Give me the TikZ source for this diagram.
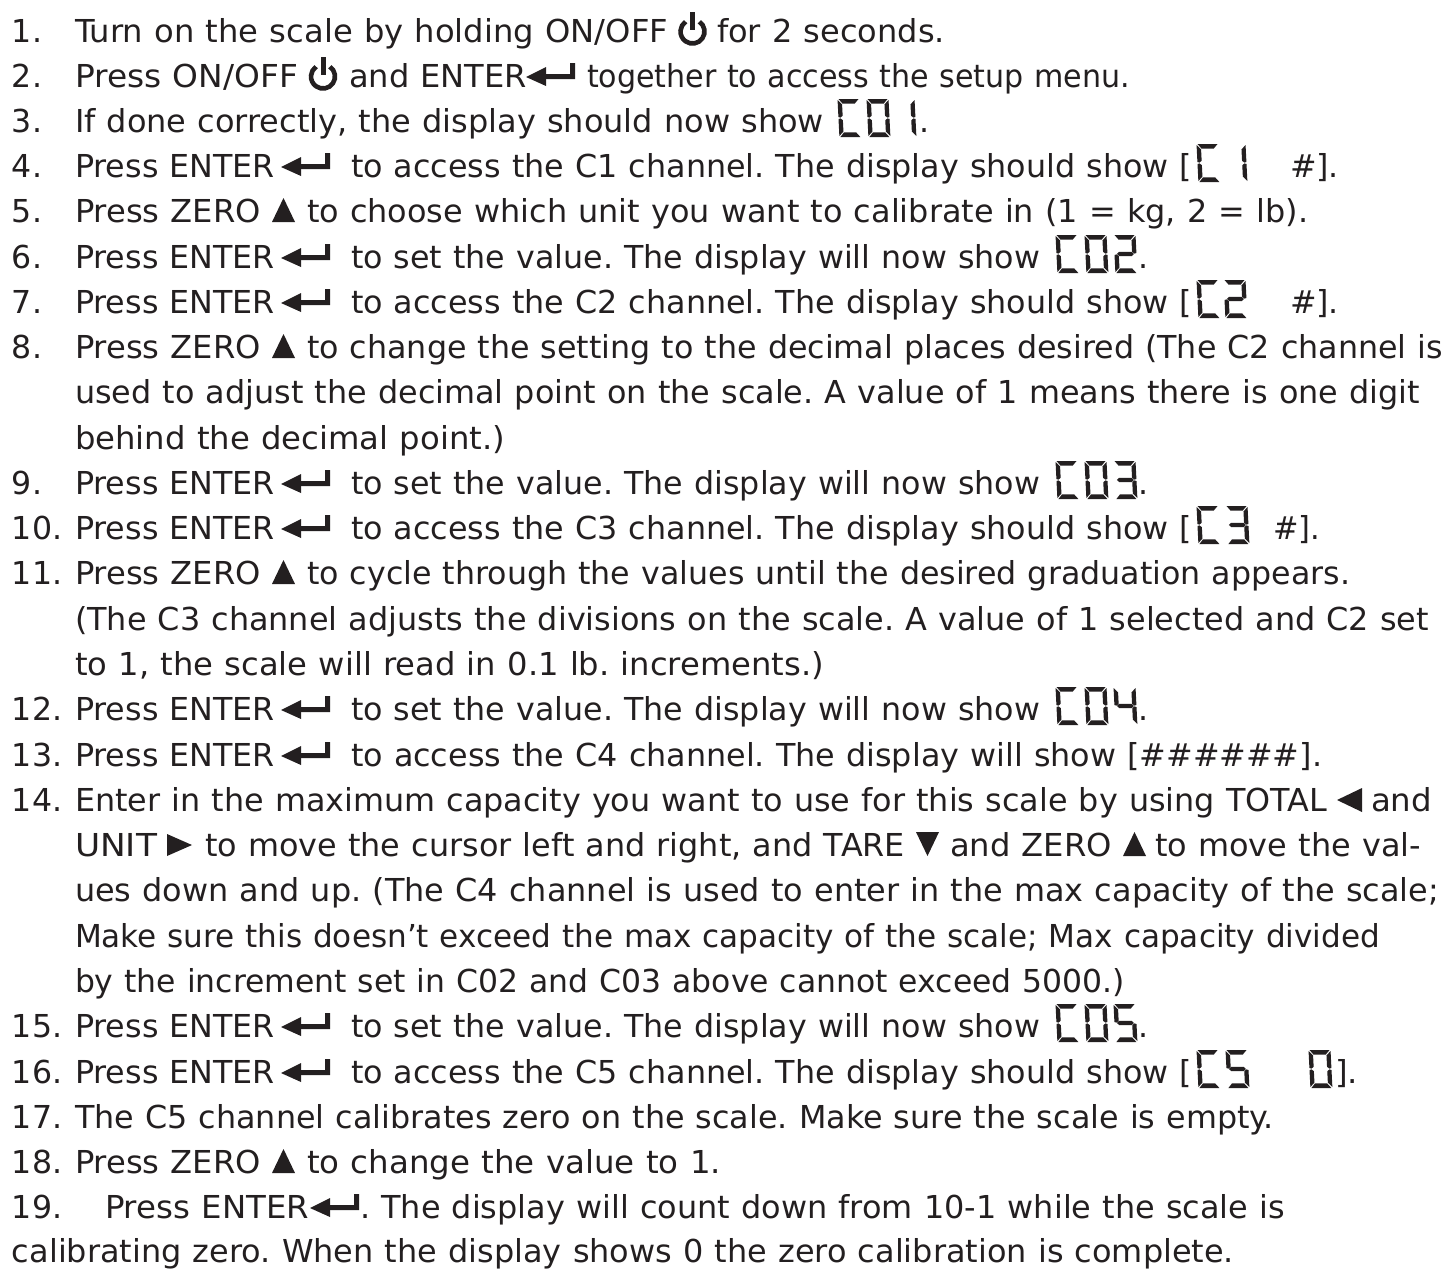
\documentclass[tikz,border=0pt]{standalone}
\usepackage{graphicx}
\usepackage{fontspec}
\setmainfont[WordSpace=1.1]{DejaVu Sans}
\definecolor{ink}{HTML}{231F20}
\newcommand{\sA}{\fill (1,0)--(21,0)--(17,4.6)--(4.8,4.6)--cycle;}
\newcommand{\sD}{\fill (1,38)--(21,38)--(17,33.4)--(4.8,33.4)--cycle;}
\newcommand{\sF}{\fill (0,1)--(4.3,5.4)--(4.3,16.8)--(2,18.6)--(0,18)--cycle;}
\newcommand{\sE}{\fill (0,20)--(2,19.4)--(4.3,21.2)--(4.3,32.6)--(0,37)--cycle;}
\newcommand{\sB}{\fill (22,1)--(22,18)--(20,18.6)--(17.7,16.8)--(17.7,5.4)--cycle;}
\newcommand{\sC}{\fill (22,20)--(20,19.4)--(17.7,21.2)--(17.7,32.6)--(22,37)--cycle;}
\newcommand{\sG}{\fill (2.5,19)--(4.8,16.8)--(17.2,16.8)--(19.5,19)--(17.2,21.2)--(4.8,21.2)--cycle;}
\newcommand{\lcd}[3]{\begin{scope}[shift={(#1+1.5,#2-33)},xslant=-0.05,fill=ink]#3\end{scope}}
\newcommand{\dC}{\sA\sF\sE\sD}
\newcommand{\dO}{\sA\sB\sC\sD\sE\sF}
\newcommand{\dI}{\sB\sC}
\newcommand{\dII}{\sA\sB\sG\sE\sD}
\newcommand{\dIII}{\sA\sB\sG\sC\sD}
\newcommand{\dIV}{\sF\sG\sB\sC}
\newcommand{\dV}{\sA\sF\sG\sC\sD}
\newcommand{\pwr}[2]{\begin{scope}[shift={(#1,#2)}]
 \draw[ink,line width=4.6pt] (0,-10.5) ++(-55:12) arc[start angle=-55,end angle=235,radius=12];
 \draw[ink,line width=5pt] (0,-30)--(0,-12);\end{scope}}
\newcommand{\ent}[2]{\begin{scope}[shift={(#1,#2)}]
 \fill[ink] (0,-10)--(20,-20)--(20,-1)--cycle;
 \fill[ink] (19,-13)--(44,-13)--(44,-24)--(49,-24)--(49,-8)--(19,-8)--cycle;\end{scope}}
\newcommand{\triU}[2]{\fill[ink] (#1,#2)--(#1+23,#2)--(#1+11.5,#2-24)--cycle;}
\newcommand{\triD}[2]{\fill[ink] (#1,#2-24)--(#1+23,#2-24)--(#1+11.5,#2)--cycle;}
\newcommand{\triL}[2]{\fill[ink] (#1,#2-11)--(#1+25,#2-23)--(#1+25,#2+1)--cycle;}
\newcommand{\triR}[2]{\fill[ink] (#1+25,#2-11)--(#1,#2-22)--(#1,#2)--cycle;}
\newcommand{\txtf}{\fontsize{31.6}{36}\selectfont\frenchspacing}
\tikzset{txt/.style={anchor=base west,inner sep=0pt,outer sep=0pt,text=ink,font=\txtf}}
\newcommand{\T}[4]{\node[txt] (#1) at (#2,#3) {#4};}
\newsavebox{\fitbox}
% name, x start, baseline, x end, text: the text is fitted to the span
\newcommand{\F}[5]{\node[txt] (#1) at (#2,#3) {\sbox{\fitbox}{#5}\pgfmathsetmacro{\myscale}{(#4-#2)/\the\wd\fitbox}\scalebox{\myscale}[1]{\usebox{\fitbox}}};}
\newcommand{\PE}[2]{\F{#1}{75}{#2}{275}{Press ENTER}\ent{281}{#2}}
\newcommand{\PZ}[2]{\F{#1}{75}{#2}{261}{Press ZERO}\triU{272}{#2}}
\begin{document}
\begin{tikzpicture}[x=1pt,y=-1pt]
\useasboundingbox (0,0) rectangle (1447,1269);
% 1
\T{n1}{12}{42}{1.}\F{a1}{75}{42}{668}{Turn on the scale by holding ON/OFF}\pwr{692.5}{42}\F{b1}{717}{42}{945}{for 2 seconds.}
% 2
\T{n2}{12}{87}{2.}\F{a2}{75}{87}{298}{Press ON/OFF}\pwr{323}{87}\F{b2}{349}{87}{527}{and ENTER}\ent{526}{87}\F{c2}{587}{87}{1130}{together to access the setup menu.}
% 3
\T{n3}{12}{132}{3.}\F{a3}{75}{132}{824}{If done correctly, the display should now show}
\lcd{836}{132}{\dC}\lcd{865}{132}{\dO}\lcd{891}{132}{\dI}\T{b3}{919}{132}{.}
% 4
\T{n4}{12}{177}{4.}\PE{a4}{177}\F{b4}{351}{177}{1192}{to access the C1 channel. The display should show [}
\lcd{1195}{177}{\dC}\lcd{1222}{177}{\dI}\F{c4}{1290}{177}{1339}{\#].}
% 5
\T{n5}{12}{222}{5.}\PZ{a5}{222}\F{b5}{307}{222}{1308}{to choose which unit you want to calibrate in (1 = kg, 2 = lb).}
% 6
\T{n6}{12}{268}{6.}\PE{a6}{268}\F{b6}{351}{268}{1040}{to set the value. The display will now show}
\lcd{1054}{268}{\dC}\lcd{1083}{268}{\dO}\lcd{1112}{268}{\dII}\T{c6}{1138}{268}{.}
% 7
\T{n7}{12}{313}{7.}\PE{a7}{313}\F{b7}{351}{313}{1192}{to access the C2 channel. The display should show [}
\lcd{1195}{313}{\dC}\lcd{1222}{313}{\dII}\F{c7}{1290}{313}{1339}{\#].}
% 8
\T{n8}{12}{358}{8.}\PZ{a8}{358}\F{b8}{307}{358}{1443}{to change the setting to the decimal places desired (The C2 channel is}
\F{a8b}{75}{403}{1420}{used to adjust the decimal point on the scale. A value of 1 means there is one digit}
\F{a8c}{75}{449}{505}{behind the decimal point.)}
% 9
\T{n9}{12}{494}{9.}\PE{a9}{494}\F{b9}{351}{494}{1040}{to set the value. The display will now show}
\lcd{1054}{494}{\dC}\lcd{1083}{494}{\dO}\lcd{1112}{494}{\dIII}\T{c9}{1138}{494}{.}
% 10
\T{n10}{12}{539}{10.}\PE{a10}{539}\F{b10}{351}{539}{1192}{to access the C3 channel. The display should show [}
\lcd{1195}{539}{\dC}\lcd{1224}{539}{\dIII}\F{c10}{1273}{539}{1320}{\#].}
% 11
\T{n11}{12}{584}{11.}\PZ{a11}{584}\F{b11}{307}{584}{1350}{to cycle through the values until the desired graduation appears.}
\F{a11b}{75}{630}{1429}{(The C3 channel adjusts the divisions on the scale. A value of 1 selected and C2 set}
\F{a11c}{75}{675}{824}{to 1, the scale will read in 0.1 lb. increments.)}
% 12
\T{n12}{12}{720}{12.}\PE{a12}{720}\F{b12}{351}{720}{1040}{to set the value. The display will now show}
\lcd{1054}{720}{\dC}\lcd{1083}{720}{\dO}\lcd{1112}{720}{\dIV}\T{c12}{1138}{720}{.}
% 13
\T{n13}{12}{766}{13.}\PE{a13}{766}\F{b13}{351}{766}{1322}{to access the C4 channel. The display will show [\#\#\#\#\#\#].}
% 14
\T{n14}{12}{811}{14.}\F{a14}{75}{811}{1327}{Enter in the maximum capacity you want to use for this scale by using TOTAL}\triL{1337}{811}\F{b14}{1371}{811}{1432}{and}
\F{a14b}{75}{856}{157}{UNIT}\triR{167}{856}\F{b14b}{205}{856}{905}{to move the cursor left and right, and TARE}\triD{916}{856}\F{c14b}{950}{856}{1112}{and ZERO}\triU{1123}{856}\F{d14b}{1155}{856}{1421}{to move the val-}
\F{a14c}{75}{901}{1439}{ues down and up. (The C4 channel is used to enter in the max capacity of the scale;}
\F{a14d}{75}{947}{1380}{Make sure this doesn’t exceed the max capacity of the scale; Max capacity divided}
\F{a14e}{75}{992}{1125}{by the increment set in C02 and C03 above cannot exceed 5000.)}
% 15
\T{n15}{12}{1037}{15.}\PE{a15}{1037}\F{b15}{351}{1037}{1040}{to set the value. The display will now show}
\lcd{1054}{1037}{\dC}\lcd{1083}{1037}{\dO}\lcd{1112}{1037}{\dV}\T{c15}{1138}{1037}{.}
% 16
\T{n16}{12}{1083}{16.}\PE{a16}{1083}\F{b16}{351}{1083}{1192}{to access the C5 channel. The display should show [}
\lcd{1195}{1083}{\dC}\lcd{1224}{1083}{\dV}\lcd{1307}{1083}{\dO}\F{c16}{1335}{1083}{1358}{].}
% 17
\T{n17}{12}{1128}{17.}\F{a17}{75}{1128}{1274}{The C5 channel calibrates zero on the scale. Make sure the scale is empty.}
% 18
\T{n18}{12}{1173}{18.}\PZ{a18}{1173}\F{b18}{307}{1173}{721}{to change the value to 1.}
% 19
\T{n19}{12}{1218}{19.}\F{a19}{105}{1218}{309}{Press ENTER}\ent{310}{1218}\F{b19}{360}{1218}{1285}{. The display will count down from 10-1 while the scale is}
\F{a19b}{12}{1262}{1234}{calibrating zero. When the display shows 0 the zero calibration is complete.}
\end{tikzpicture}
\end{document}
